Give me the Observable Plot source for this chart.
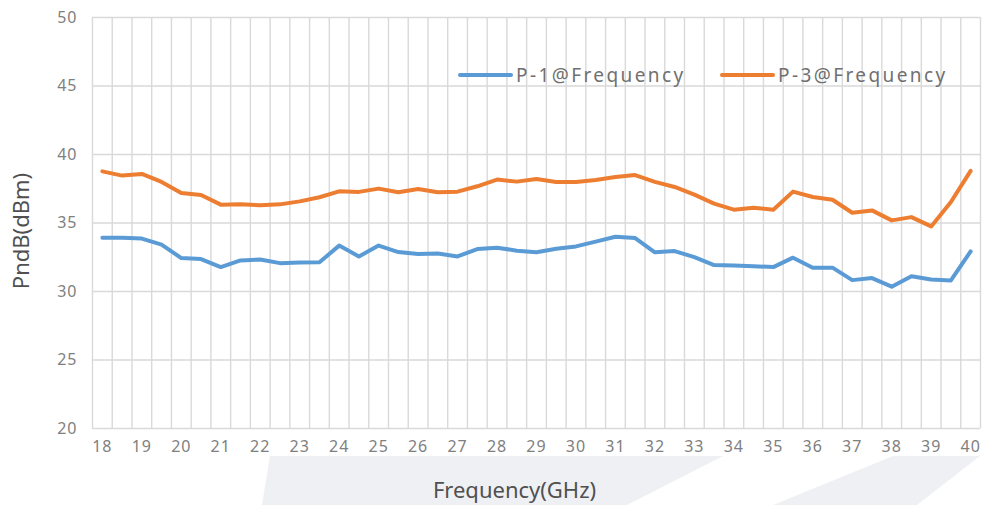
<!DOCTYPE html>
<html>
<head>
<meta charset="utf-8">
<script src="https://cdn.jsdelivr.net/npm/d3@7"></script>
<script src="https://cdn.jsdelivr.net/npm/@observablehq/plot@0.6"></script>
<style>
  html, body { margin: 0; padding: 0; background: #ffffff; }
  #wrap { position: relative; width: 983px; height: 505px; overflow: hidden; }
  .band { position: absolute; left: 0; top: 0; width: 983px; height: 505px; }
  #chart { position: absolute; left: 0; top: 0; }
  #chart svg { background: transparent !important; }
  #chart svg g[aria-label="text"] text { letter-spacing: 0; }
  .legend { position: absolute; top: 62px; display: flex; align-items: center;
            font-family: "Noto Sans", "Open Sans", sans-serif; font-size: 19px;
            letter-spacing: 2.4px; color: #707070; }
  .legend .sw { width: 55px; height: 4px; border-radius: 2px; margin-right: 3px; }
</style>
</head>
<body>
<div id="wrap">
  <div class="band" style="background:#eff0f4; clip-path: polygon(270px 456px, 983px 456px, 983px 505px, 262px 505px);"></div>
  <div class="band" style="background:#ffffff; clip-path: polygon(723px 456px, 893px 456px, 773px 505px, 627px 505px);"></div>
  <div class="band" style="background:#ffffff; clip-path: polygon(980px 456px, 983px 456px, 983px 505px, 917px 505px);"></div>
  <div id="chart"></div>
  <div class="legend" style="left:458px;"><div class="sw" style="background:#5b9bd5"></div><span id="lg1"></span></div>
  <div class="legend" style="left:720px;"><div class="sw" style="background:#ed7d31"></div><span id="lg2"></span></div>
</div>
<script>
// Frequency categories (GHz)
const freq = [18, 18.5, 19, 19.5, 20, 20.5, 21, 21.5, 22, 22.5, 23, 23.5, 24, 24.5, 25, 25.5,
  26, 26.5, 27, 27.5, 28, 28.5, 29, 29.5, 30, 30.5, 31, 31.5, 32, 32.5, 33, 33.5, 34, 34.5,
  35, 35.5, 36, 36.5, 37, 37.5, 38, 38.5, 39, 39.5, 40];

// P-1@Frequency (dBm)
const p1 = [33.93, 33.93, 33.86, 33.42, 32.44, 32.37, 31.78, 32.27, 32.34, 32.07, 32.12, 32.13,
  33.35, 32.56, 33.35, 32.88, 32.73, 32.78, 32.56, 33.10, 33.20, 32.98, 32.86, 33.12, 33.29,
  33.64, 34.00, 33.90, 32.86, 32.95, 32.51, 31.93, 31.90, 31.85, 31.78, 32.47, 31.74, 31.74,
  30.83, 30.98, 30.35, 31.12, 30.88, 30.81, 32.93];

// P-3@Frequency (dBm)
const p3 = [38.77, 38.46, 38.58, 38.00, 37.19, 37.04, 36.34, 36.36, 36.30, 36.36, 36.58, 36.88,
  37.31, 37.27, 37.51, 37.24, 37.48, 37.24, 37.29, 37.68, 38.17, 38.02, 38.21, 37.99, 37.99,
  38.14, 38.36, 38.50, 38.00, 37.63, 37.07, 36.41, 35.97, 36.11, 35.97, 37.29, 36.90, 36.70,
  35.75, 35.92, 35.19, 35.43, 34.75, 36.53, 38.80];

const seriesNames = ["P-1@Frequency", "P-3@Frequency"];
const seriesColors = ["#5b9bd5", "#ed7d31"];
const xTicks = [18, 19, 20, 21, 22, 23, 24, 25, 26, 27, 28, 29, 30, 31, 32, 33, 34, 35, 36, 37, 38, 39, 40];
const yTicks = [20, 25, 30, 35, 40, 45, 50];
const xTitle = "Frequency(GHz)";
const yTitle = "PndB(dBm)";

const data = [];
freq.forEach((f, i) => {
  data.push({freq: f, value: p1[i], series: seriesNames[0]});
  data.push({freq: f, value: p3[i], series: seriesNames[1]});
});

// category boundaries (grid lines between categories)
const half = (freq[1] - freq[0]) / 2;
const xGrid = freq.map(f => f - half).concat([freq[freq.length - 1] + half]);

const chart = Plot.plot({
  width: 983,
  height: 505,
  marginTop: 17,
  marginBottom: 77,
  marginLeft: 92,
  marginRight: 3,
  style: {
    fontFamily: "'Noto Sans', 'Open Sans', sans-serif",
    fontSize: "16px",
    color: "#808080",
    letterSpacing: "1px",
    background: "transparent"
  },
  x: {
    type: "linear",
    domain: [xGrid[0], xGrid[xGrid.length - 1]],
    ticks: xTicks,
    tickSize: 0,
    tickPadding: 12,
    tickFormat: d => String(d),
    label: null
  },
  y: {
    domain: [yTicks[0], yTicks[yTicks.length - 1]],
    ticks: yTicks,
    tickSize: 0,
    tickPadding: 15,
    tickFormat: d => String(d),
    label: null
  },
  color: { domain: seriesNames, range: seriesColors },
  marks: [
    Plot.ruleX(xGrid, {stroke: "#d9d9d9", strokeWidth: 1.4}),
    Plot.ruleY(yTicks, {stroke: "#d9d9d9", strokeWidth: 1.4}),
    Plot.line(data, {x: "freq", y: "value", z: "series", stroke: "series",
      strokeWidth: 4, strokeLinejoin: "round", strokeLinecap: "round"}),
    Plot.text([xTitle], {frameAnchor: "bottom", dx: -22, dy: 62, text: d => d,
      fontSize: 22, fill: "#505050", lineAnchor: "middle", textAnchor: "middle"}),
    Plot.text([yTitle], {frameAnchor: "left", dx: -71, dy: 8, rotate: -90, text: d => d,
      fontSize: 22, fill: "#505050", lineAnchor: "middle", textAnchor: "middle"})
  ]
});

document.getElementById("chart").appendChild(chart);
document.getElementById("lg1").textContent = seriesNames[0];
document.getElementById("lg2").textContent = seriesNames[1];
</script>
</body>
</html>
